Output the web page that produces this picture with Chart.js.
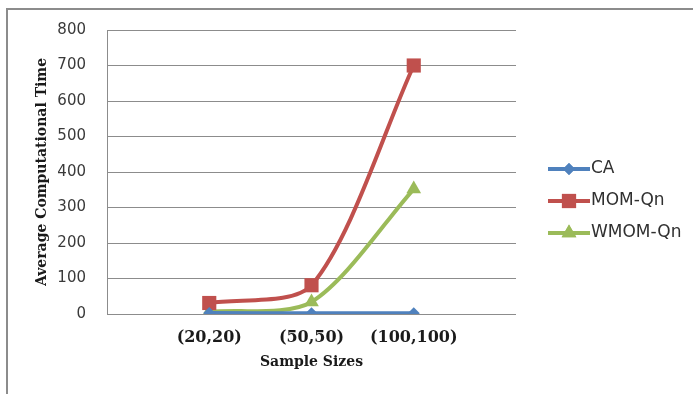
<!DOCTYPE html>
<html>
<head>
<meta charset="utf-8">
<script src="https://cdn.jsdelivr.net/npm/chart.js@4/dist/chart.umd.min.js"></script>
<style>
  html, body { margin: 0; padding: 0; background: #fff; }
  #wrap { position: relative; width: 693px; height: 394px; overflow: hidden; }
  #frame { position: absolute; left: 6px; top: 8px; right: -10px; bottom: -10px;
           border-top: 2px solid #8c8c8c; border-left: 2px solid #8c8c8c; }
  canvas { position: absolute; left: 0; top: 0; }
</style>
</head>
<body>
<div id="wrap">
  <div id="frame"></div>
  <canvas id="c" width="693" height="394"></canvas>
</div>
<script>
// ---- data ----
const categories = ["(20,20)", "(50,50)", "(100,100)"];
const seriesNames = ["CA", "MOM-Qn", "WMOM-Qn"];
const caValues = [3, 2, 2];
const momQnValues = [31, 81, 700];
const wmomQnValues = [6, 34, 352];
const yTicks = [0, 100, 200, 300, 400, 500, 600, 700, 800];
const yTitle = "Average Computational Time";
const xTitle = "Sample Sizes";

const colors = ["#4F81BD", "#C0504D", "#9BBB59"];
const shapes = ["rectRot", "rect", "triangle"];
const radii = [6, 10, 8.5];

function toPoints(vals) {
  return vals.map((v, i) => ({ x: i + 1, y: v }));
}
const allValues = [caValues, momQnValues, wmomQnValues];

const datasets = allValues.map((vals, i) => ({
  label: seriesNames[i],
  data: toPoints(vals),
  borderColor: colors[i],
  backgroundColor: colors[i],
  borderWidth: 4,
  pointStyle: shapes[i],
  pointRadius: radii[i],
  pointBorderWidth: 0,
  pointBackgroundColor: colors[i],
  tension: 0.28,
  fill: false
}));

const legendPlugin = {
  id: 'sideLegend',
  afterDraw(chart) {
    const ctx = chart.ctx;
    const x0 = 548, x1 = 590, ys = [169, 201, 233];
    chart.data.datasets.forEach((ds, i) => {
      const y = ys[i];
      ctx.save();
      ctx.strokeStyle = ds.borderColor;
      ctx.lineWidth = 4;
      ctx.beginPath();
      ctx.moveTo(x0, y);
      ctx.lineTo(x1, y);
      ctx.stroke();
      ctx.fillStyle = ds.borderColor;
      Chart.helpers.drawPoint(ctx, { pointStyle: ds.pointStyle, radius: ds.pointRadius, borderWidth: 0, rotation: 0 }, (x0 + x1) / 2, y);
      ctx.fill();
      ctx.fillStyle = '#303030';
      ctx.font = '17px "DejaVu Sans"';
      ctx.textBaseline = 'middle';
      ctx.textAlign = 'left';
      ctx.fillText(ds.label, x1 + 1, y);
      ctx.restore();
    });
  }
};

new Chart(document.getElementById('c'), {
  type: 'line',
  data: { datasets },
  options: {
    responsive: false,
    animation: false,
    events: [],
    layout: { padding: { left: 0, right: 177, top: 28, bottom: 0 } },
    plugins: { legend: { display: false }, tooltip: { enabled: false } },
    elements: { line: { capBezierPoints: false } },
    scales: {
      x: {
        type: 'linear',
        min: 0, max: 4,
        afterFit(s) { s.height = 80; },
        afterBuildTicks(s) { s.ticks = [0, 1, 2, 3, 4].map(v => ({ value: v })); },
        grid: { display: false, drawTicks: false },
        border: { display: false },
        ticks: {
          padding: 14,
          maxRotation: 0,
          autoSkip: false,
          color: '#1a1a1a',
          font: { family: '"DejaVu Serif"', size: 16, weight: 'bold' },
          callback: (v) => (v >= 1 && v <= categories.length && Number.isInteger(v)) ? categories[v - 1] : ''
        },
        title: {
          display: true, text: xTitle, color: '#1a1a1a',
          font: { family: '"DejaVu Serif"', size: 14, weight: 'bold' },
          padding: { top: 0, bottom: 23 }
        }
      },
      y: {
        min: 0, max: 800,
        afterFit(s) { s.width = 107; },
        afterBuildTicks(s) { s.ticks = yTicks.map(v => ({ value: v })); },
        grid: { color: '#8c8c8c', lineWidth: 1, drawTicks: false },
        border: { display: true, color: '#8c8c8c', width: 1 },
        ticks: {
          padding: 21,
          color: '#3a3a3a',
          font: { family: '"DejaVu Sans"', size: 15 }
        },
        title: {
          display: true, text: yTitle, color: '#1a1a1a',
          font: { family: '"DejaVu Serif"', size: 14, weight: 'bold' },
          padding: { top: 34, bottom: 0 }
        }
      }
    }
  },
  plugins: [legendPlugin]
});
</script>
</body>
</html>
